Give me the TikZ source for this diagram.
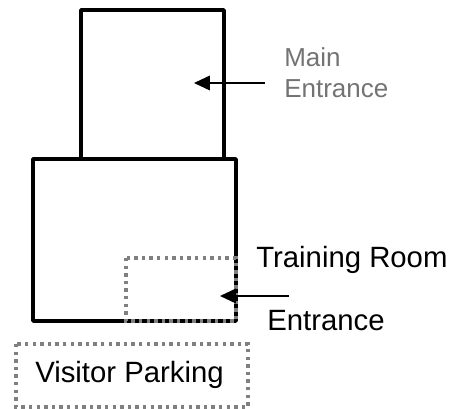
\documentclass[tikz,border=0pt]{standalone}
\usepackage{fontspec}
\setmainfont{Liberation Sans}
\usetikzlibrary{arrows.meta}
\tikzset{
  room/.style={draw=black,line width=2.7pt,line join=round,inner sep=0pt,minimum width=0pt},
  zone/.style={draw=black!50,line width=2.6pt,dash pattern=on 2.6pt off 3.1pt},
  pointer/.style={draw=black,line width=1.2pt,-{Triangle[length=12pt,width=11pt]}},
  bigtext/.style={font=\fontsize{22pt}{26pt}\selectfont,inner sep=0pt,anchor=base west,text=black},
  graytext/.style={font=\fontsize{19.5pt}{23.5pt}\selectfont,inner sep=0pt,anchor=base west,text=black!55}
}
\begin{document}
\begin{tikzpicture}[x=0.75pt,y=-0.75pt]
\useasboundingbox (0,0) rectangle (462,409);
\coordinate (topNW) at (81,10);
\coordinate (topSE) at (224,159);
\coordinate (lowNW) at (33,159);
\coordinate (lowSE) at (236,321);
\coordinate (trainNW) at (126,258);
\coordinate (parkNW) at (16,344);
\coordinate (parkSE) at (248,407);
\draw[room] (topNW) rectangle (topSE);
\draw[room] (lowNW) rectangle (lowSE);
\draw[zone] (trainNW) rectangle (lowSE);
\draw[zone] (parkNW) rectangle (parkSE);
\node[graytext] (mainA) at (284,67) {Main};
\node[graytext] (mainB) at (284,98) {Entrance};
\node[bigtext] (train) at (256,268) {Training Room};
\node[bigtext] (ent) at (267,331) {Entrance};
\node[bigtext] (visitor) at (35,383) {Visitor Parking};
\coordinate (a1s) at (265,83);
\coordinate (a1e) at (194,83);
\coordinate (a2s) at (289,296);
\coordinate (a2e) at (220,296);
\draw[pointer] (a1s) -- (a1e);
\draw[pointer] (a2s) -- (a2e);
\end{tikzpicture}
\end{document}
